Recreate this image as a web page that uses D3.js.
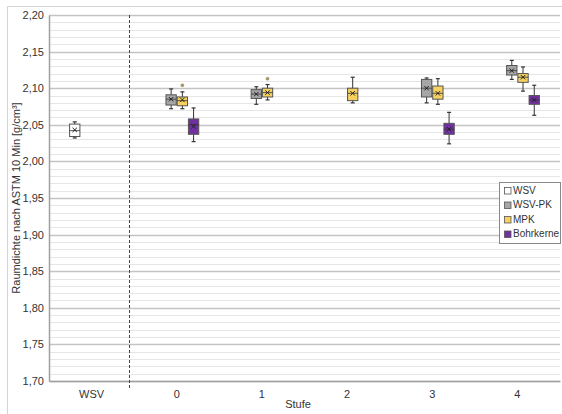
<!DOCTYPE html>
<html>
<head>
<meta charset="utf-8">
<script src="https://cdn.jsdelivr.net/npm/d3@7"></script>
<style>
  body { margin: 0; background: #fff; }
  text { font-family: "Liberation Sans", Arial, sans-serif; fill: #333; }
</style>
</head>
<body>
<svg id="chart"></svg>
<script>
const WIDTH = 562, HEIGHT = 414;
const margins = { top: 15, bottom: 33, left: 49, right: 2 };

// categories on the x axis and the four box series
const stufen = ["WSV", "0", "1", "2", "3", "4"];
const serien = ["WSV", "WSV-PK", "MPK", "Bohrkerne"];
const farben = ["#ffffff", "#a6a6a6", "#f6d15f", "#7030a0"];

// [stufe, min, q1, median, q3, max, mean]
const datenWSV = [["WSV", 2.032, 2.034, 2.042, 2.051, 2.054, 2.043]];
const datenWSVPK = [
  ["0", 2.072, 2.077, 2.085, 2.091, 2.099, 2.085],
  ["1", 2.078, 2.086, 2.092, 2.098, 2.102, 2.092],
  ["3", 2.080, 2.088, 2.100, 2.112, 2.114, 2.100],
  ["4", 2.112, 2.118, 2.124, 2.131, 2.138, 2.124]
];
const datenMPK = [
  ["0", 2.072, 2.076, 2.083, 2.088, 2.095, 2.084],
  ["1", 2.084, 2.088, 2.094, 2.100, 2.105, 2.094],
  ["2", 2.080, 2.083, 2.093, 2.100, 2.115, 2.093],
  ["3", 2.078, 2.085, 2.093, 2.103, 2.113, 2.093],
  ["4", 2.096, 2.108, 2.115, 2.120, 2.129, 2.115]
];
const datenBohrkerne = [
  ["0", 2.027, 2.037, 2.050, 2.058, 2.073, 2.048],
  ["3", 2.024, 2.037, 2.044, 2.052, 2.067, 2.044],
  ["4", 2.063, 2.078, 2.084, 2.090, 2.104, 2.084]
];
// outliers: [serie, stufe, value]
const ausreisser = [["MPK", "0", 2.104], ["MPK", "1", 2.113]];

const yTicks = d3.range(1.70, 2.2001, 0.05);
const yMinor = d3.range(1.70, 2.2001, 0.01);

const svg = d3.select("#chart").attr("width", WIDTH).attr("height", HEIGHT);

// outer frame
svg.append("path")
  .attr("d", `M7.5,${HEIGHT} V6.5 H${WIDTH}`)
  .attr("fill", "none").attr("stroke", "#d4d4d4");

const x = d3.scaleBand().domain(stufen)
  .range([margins.left, WIDTH - margins.right]);
const xInner = d3.scaleBand().domain(serien)
  .range([-22, 22]).paddingInner(0.08);
const y = d3.scaleLinear().domain([1.70, 2.20])
  .range([HEIGHT - margins.bottom, margins.top]);

const fmt = v => d3.format(".2f")(v).replace(".", ",");

// grid
svg.append("g").selectAll("line").data(yMinor).join("line")
  .attr("x1", margins.left).attr("x2", WIDTH - margins.right)
  .attr("y1", d => Math.round(y(d)) + 0.5).attr("y2", d => Math.round(y(d)) + 0.5)
  .attr("stroke", "#e6e6e6").attr("stroke-width", 1.2);
svg.append("g").selectAll("line").data(yTicks).join("line")
  .attr("x1", margins.left).attr("x2", WIDTH - margins.right)
  .attr("y1", d => Math.round(y(d)) + 0.5).attr("y2", d => Math.round(y(d)) + 0.5)
  .attr("stroke", "#c4c4c4").attr("stroke-width", 1.3);

// axes
const ejeY = svg.append("g")
  .attr("transform", `translate(${margins.left},0)`)
  .call(d3.axisLeft(y).tickValues(yTicks).tickFormat(fmt).tickSize(0).tickPadding(5));
ejeY.select(".domain").attr("stroke", "#a0a0a0").attr("stroke-width", 1.5);
ejeY.selectAll("text").attr("font-size", 11).attr("fill", "#333")
  .style("font-family", "Liberation Sans, Arial, sans-serif");

const ejeX = svg.append("g")
  .attr("transform", `translate(0,${HEIGHT - margins.bottom})`)
  .call(d3.axisBottom(x).tickSize(0).tickPadding(9));
ejeX.select(".domain").attr("stroke", "#a0a0a0").attr("stroke-width", 1.5);
ejeX.selectAll("text").attr("font-size", 11).attr("fill", "#333")
  .style("font-family", "Liberation Sans, Arial, sans-serif");

// dashed separator between WSV and the Stufen
const sepX = Math.round(x("0") - 0.06 * x.step()) + 0.5;
svg.append("line")
  .attr("x1", sepX).attr("x2", sepX)
  .attr("y1", margins.top).attr("y2", HEIGHT - margins.bottom + 7)
  .attr("stroke", "#444").attr("stroke-dasharray", "3,2");

// boxes
const boxW = xInner.bandwidth();
const zeichneBoxen = (daten, serie) => {
  const farbe = farben[serien.indexOf(serie)];
  const g = svg.append("g");
  const gruppen = g.selectAll("g").data(daten).join("g")
    .attr("transform", d => `translate(${x(d[0]) + x.bandwidth() / 2 + xInner(serie)},0)`);
  // whiskers
  gruppen.append("line")
    .attr("x1", boxW / 2).attr("x2", boxW / 2)
    .attr("y1", d => y(d[1])).attr("y2", d => y(d[5]))
    .attr("stroke", "#333").attr("stroke-width", 1);
  gruppen.selectAll(".cap").data(d => [d[1], d[5]]).join("line")
    .attr("class", "cap")
    .attr("x1", boxW / 2 - 2).attr("x2", boxW / 2 + 2)
    .attr("y1", d => y(d)).attr("y2", d => y(d))
    .attr("stroke", "#333").attr("stroke-width", 1.2);
  // box
  gruppen.append("rect")
    .attr("x", 0).attr("width", boxW)
    .attr("y", d => y(d[4])).attr("height", d => y(d[2]) - y(d[4]))
    .attr("fill", farbe).attr("stroke", "#555").attr("stroke-width", 1);
  // median
  gruppen.append("line")
    .attr("x1", 0).attr("x2", boxW)
    .attr("y1", d => y(d[3])).attr("y2", d => y(d[3]))
    .attr("stroke", "#333").attr("stroke-width", 0.8);
  // mean marker (x)
  gruppen.append("path")
    .attr("d", d => {
      const cy = y(d[6]), cx = boxW / 2, s = 2.2;
      return `M${cx - s},${cy - s}L${cx + s},${cy + s}M${cx - s},${cy + s}L${cx + s},${cy - s}`;
    })
    .attr("stroke", "#222").attr("stroke-width", 1);
};
zeichneBoxen(datenWSV, "WSV");
zeichneBoxen(datenWSVPK, "WSV-PK");
zeichneBoxen(datenMPK, "MPK");
zeichneBoxen(datenBohrkerne, "Bohrkerne");

svg.append("g").selectAll("circle").data(ausreisser).join("circle")
  .attr("cx", d => x(d[1]) + x.bandwidth() / 2 + xInner(d[0]) + boxW / 2)
  .attr("cy", d => y(d[2]))
  .attr("r", 1.5)
  .attr("fill", "#a89a6a").attr("stroke", "#8a7d50").attr("stroke-width", 0.5);

// axis titles
svg.append("text")
  .attr("transform", `translate(17,${(margins.top + HEIGHT - margins.bottom) / 2}) rotate(-90)`)
  .attr("text-anchor", "middle").attr("dominant-baseline", "middle")
  .attr("font-size", 11)
  .text("Raumdichte nach ASTM 10 Min [g/cm³]");
svg.append("text")
  .attr("x", 298).attr("y", 408)
  .attr("text-anchor", "middle")
  .attr("font-size", 11)
  .text("Stufe");

// legend
const leyenda = svg.append("g").attr("transform", "translate(499.5,182.5)");
leyenda.append("rect")
  .attr("width", 61).attr("height", 61)
  .attr("fill", "#fff").attr("stroke", "#888").attr("stroke-width", 1);
const items = leyenda.selectAll("g").data(serien).join("g")
  .attr("transform", (_, i) => `translate(5,${8.5 + i * 14.5})`);
items.append("rect")
  .attr("x", 0).attr("y", -3.5).attr("width", 6.5).attr("height", 6.5)
  .attr("fill", (_, i) => farben[i]).attr("stroke", "#555").attr("stroke-width", 0.8);
items.append("text")
  .attr("x", 8.5).attr("y", 0).attr("dominant-baseline", "middle")
  .attr("font-size", 10)
  .text(d => d);
</script>
</body>
</html>
